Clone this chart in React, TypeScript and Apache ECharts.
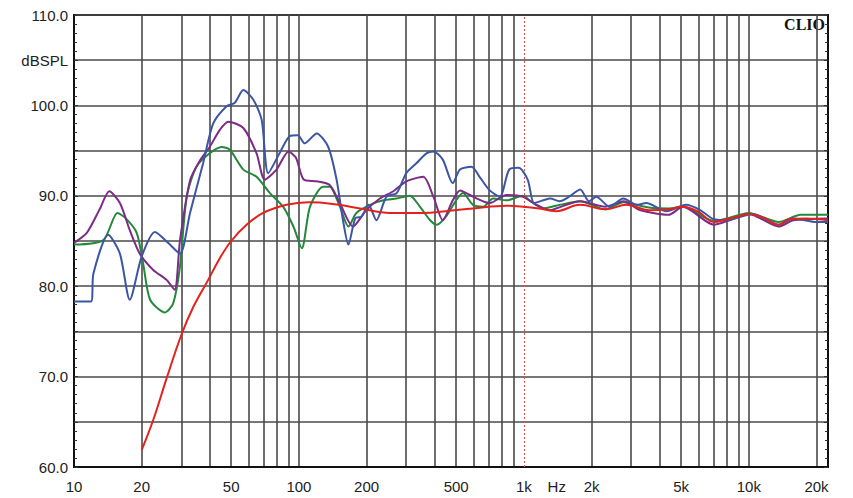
import React, { useEffect, useRef } from "react";
import * as echarts from "echarts";

// frequency grid (Hz) for vertical grid lines, label positions
const gridFreqs = [20, 30, 40, 50, 60, 70, 80, 90, 100, 200, 300, 400, 500, 600, 700, 800, 900, 2000, 3000, 4000, 5000, 6000, 7000, 8000, 9000, 10000, 20000];
const labelFreqs = [10, 20, 50, 100, 200, 500, 1000, 1400, 2000, 5000, 10000, 20000];
const hzLabelFreq = 1400;
const markerFreq = 1000;
const fMin = 10;
const fMax = 22500;

// red curve
const redF = [20, 22.5, 25.8, 30, 33.9, 39.5, 44.5, 50, 58.5, 69.3, 88, 110, 124, 150, 187, 254, 357, 450, 594, 838, 990, 1170, 1390, 1780, 2300, 2870, 3600, 4400, 5100, 6000, 7000, 8000, 9000, 10000, 11500, 13600, 15100, 18000, 22500];
const redDb = [61.9, 65.2, 69.8, 74.6, 77.7, 80.7, 83.1, 85.0, 86.8, 88.1, 89.0, 89.3, 89.25, 89.0, 88.6, 88.1, 88.1, 88.3, 88.6, 88.9, 88.8, 88.6, 88.3, 89.0, 88.5, 89.0, 88.4, 88.5, 88.8, 88.2, 87.1, 87.4, 87.7, 88.0, 87.6, 86.8, 87.4, 87.5, 87.3];

// green curve
const greenF = [10, 13.5, 15.6, 17, 19, 20.3, 21.8, 25.4, 27.6, 29.6, 31.7, 35, 40.1, 45.3, 49.3, 56.6, 64.8, 74.3, 85, 94.5, 103, 112, 128, 137, 152, 166, 180, 207, 237, 272, 311, 345, 383, 410, 450, 500, 536, 594, 660, 730, 838, 990, 1070, 1220, 1390, 1780, 2300, 2770, 3600, 4400, 5100, 7000, 8000, 10000, 13600, 17000, 22500];
const greenDb = [84.6, 85.1, 88.1, 87.5, 85.9, 82.5, 78.5, 77.1, 78.1, 82.2, 89.9, 93.2, 94.7, 95.4, 95.1, 92.9, 92.1, 90.3, 88.8, 86.6, 84.2, 88.8, 91.0, 91.0, 88.8, 86.6, 88.1, 89.0, 89.5, 89.7, 90.0, 88.8, 87.3, 86.8, 87.7, 89.5, 90.3, 89.0, 88.8, 89.7, 89.5, 90.0, 89.4, 88.6, 88.9, 89.4, 88.5, 89.3, 88.7, 88.6, 88.8, 87.2, 87.5, 88.1, 87.1, 87.9, 87.9];

// purple curve
const purpleF = [10, 11.4, 13, 14.35, 16, 17.7, 19.6, 22.5, 25.8, 28, 29.6, 32.8, 36.3, 40.1, 44.5, 48.5, 56.6, 64.8, 70.5, 79.5, 90, 97, 105, 120, 137, 152, 174, 199, 229, 263, 300, 357, 396, 436, 483, 520, 594, 705, 838, 990, 1140, 1310, 1390, 1780, 2300, 2770, 3300, 4400, 5100, 7000, 8000, 10000, 13600, 15800, 22500];
const purpleDb = [84.8, 85.9, 88.5, 90.5, 89.2, 86.2, 83.6, 81.8, 80.7, 79.6, 85.1, 91.7, 93.9, 95.4, 97.3, 98.2, 97.5, 94.7, 91.8, 92.9, 94.9, 94.2, 91.8, 91.6, 91.2, 89.2, 86.6, 88.4, 89.7, 90.5, 91.6, 92.1, 89.9, 87.3, 89.5, 90.6, 89.9, 89.2, 90.1, 89.9, 89.0, 88.4, 88.6, 89.4, 88.8, 89.4, 88.4, 87.9, 88.8, 86.8, 87.2, 88.0, 86.6, 87.3, 87.5];

// blue curve
const blueF = [10, 11.9, 12.2, 14.2, 16, 17.7, 20, 22.9, 26.2, 29.6, 32.8, 37.5, 41.6, 47.7, 51.9, 56.6, 62.8, 68.3, 73, 82, 91, 99, 106, 120, 135, 147, 157, 166, 178, 190, 204, 221, 245, 272, 300, 333, 369, 396, 436, 483, 520, 585, 639, 705, 782, 860, 948, 1040, 1110, 1220, 1310, 1440, 1590, 1780, 1950, 2100, 2400, 2770, 3170, 3500, 4300, 5270, 6100, 7000, 7950, 10400, 13600, 15800, 20000, 22500];
const blueDb = [78.3, 78.3, 81.4, 85.7, 83.6, 78.5, 83.3, 86.0, 84.8, 83.6, 88.1, 93.6, 98.0, 99.9, 100.3, 101.7, 100.6, 98.4, 92.5, 94.7, 96.6, 96.7, 95.8, 96.9, 95.4, 91.8, 87.3, 84.6, 87.5, 87.7, 89.0, 87.3, 89.9, 90.3, 92.5, 93.6, 94.7, 94.9, 94.0, 91.4, 92.9, 93.2, 92.0, 90.6, 89.9, 92.9, 93.1, 91.8, 89.2, 89.5, 89.7, 89.4, 89.9, 90.7, 89.4, 89.9, 88.8, 89.7, 89.0, 89.2, 88.3, 89.0, 88.4, 87.4, 87.3, 88.0, 86.8, 87.5, 87.1, 87.1];

const toPts = (f: number[], d: number[]) => f.map((v, i) => [Math.log10(v), d[i]]);

const fmtFreq = (v: number) => {
  const f = Math.round(Math.pow(10, v));
  if (Math.abs(f - hzLabelFreq) < 5) return "Hz";
  if (f >= 1000) return f / 1000 + "k";
  return String(f);
};

export default function App() {
  const ref = useRef<HTMLDivElement>(null);
  useEffect(() => {
    if (!ref.current) return;
    const chart = echarts.init(ref.current, null, { renderer: "svg" });
    const line = (name: string, color: string, f: number[], d: number[], smooth: number | boolean, z: number) => ({
      name,
      type: "line",
      data: toPts(f, d),
      showSymbol: false,
      symbol: "none",
      smooth,
      z,
      lineStyle: { color, width: 2 },
      silent: true,
    });
    const red: any = line("red", "#e3221d", redF, redDb, 0.4, 6);
    red.markLine = {
      silent: true,
      symbol: "none",
      label: { show: false },
      lineStyle: { color: "#e05050", type: [2, 2], width: 1 },
      data: [{ xAxis: Math.log10(markerFreq) }],
    };
    const gridLine = { color: "#4a4a4a", width: 1.6 };
    chart.setOption({
      animation: false,
      backgroundColor: "#fff",
      grid: { left: 74, right: 25, top: 15, bottom: 31, show: true, borderColor: "#111", borderWidth: 2, backgroundColor: "#fff" },
      xAxis: {
        type: "value",
        min: Math.log10(fMin),
        max: Math.log10(fMax),
        axisLine: { show: true, lineStyle: { color: "#111", width: 2 } },
        axisTick: { show: false, customValues: gridFreqs.map((f) => Math.log10(f)) },
        splitLine: { show: true, lineStyle: gridLine },
        axisLabel: {
          customValues: labelFreqs.map((f) => Math.log10(f)),
          formatter: fmtFreq,
          color: "#222",
          fontSize: 15,
          fontFamily: "Liberation Sans, Arial, sans-serif",
          margin: 12,
          showMinLabel: true,
          showMaxLabel: true,
        },
      },
      yAxis: [
        {
          type: "value",
          min: 60,
          max: 110,
          interval: 5,
          axisLine: { show: true, lineStyle: { color: "#111", width: 2 } },
          axisTick: { show: true, inside: true, length: 4, lineStyle: { color: "#333" } },
          minorTick: { show: true, splitNumber: 5, length: 3, lineStyle: { color: "#333" } },
          splitLine: { show: true, lineStyle: gridLine },
          axisLabel: {
            formatter: (v: number) => (v === 105 ? "dBSPL" : v % 10 === 0 ? v.toFixed(1) : ""),
            color: "#222",
            fontSize: 15,
            fontFamily: "Liberation Sans, Arial, sans-serif",
            margin: 6,
          },
        },
        {
          type: "value",
          position: "right",
          min: 60,
          max: 110,
          interval: 5,
          axisLine: { show: true, lineStyle: { color: "#111", width: 2 } },
          axisTick: { show: true, inside: true, length: 4, lineStyle: { color: "#333" } },
          minorTick: { show: true, splitNumber: 5, length: 3, lineStyle: { color: "#333" } },
          splitLine: { show: false },
          axisLabel: { show: false },
        },
      ],
      graphic: [
        {
          type: "text",
          right: 28,
          top: 16,
          style: { text: "CLIO", font: "bold 16px 'Liberation Serif', 'Times New Roman', serif", fill: "#111" },
        },
      ],
      series: [
        line("green", "#23893a", greenF, greenDb, 0.25, 3),
        line("purple", "#7d2b86", purpleF, purpleDb, 0.25, 4),
        line("blue", "#3c56a6", blueF, blueDb, 0.25, 5),
        red,
      ],
    });
    return () => chart.dispose();
  }, []);
  return <div ref={ref} style={{ position: "fixed", left: 0, top: 0, width: 853, height: 498 }} />;
}
